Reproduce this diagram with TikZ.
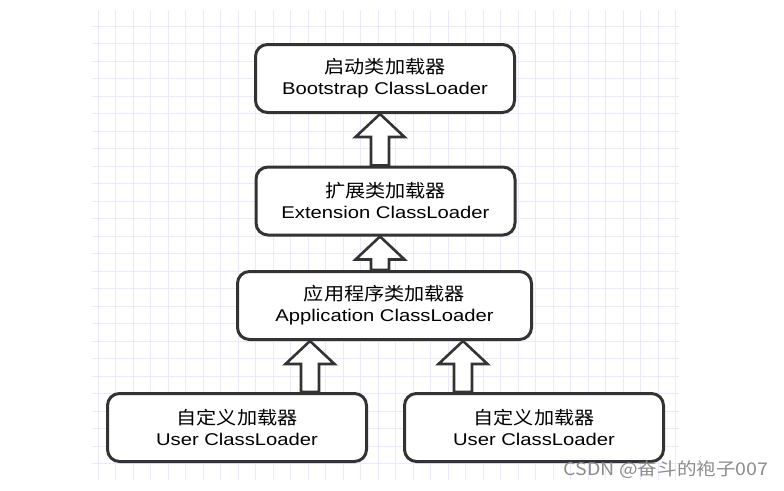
\documentclass[tikz,border=0pt]{standalone}
\usepackage{fontspec}
\setmainfont[FakeStretch=1.19]{Liberation Sans}
\newfontfamily\cjk[FakeStretch=1.12]{Noto Sans CJK SC}
\usetikzlibrary{calc,positioning}
\definecolor{gridcol}{RGB}{236,232,255}
\definecolor{inkcol}{RGB}{51,51,51}

% hollow up-arrow from lower box to upper box, #3 = x shift of the tip
\newcommand{\liftarrow}[3]{%
  \coordinate (tip) at ($(#2.south)+(#3,0)$);
  \coordinate (foot) at (#1.north -| tip);
  \draw[hollow] ($(foot)+(-9,0)$) |- ($(tip)+(-24.5,23)$) -- (tip)
    -- ($(tip)+(24.5,23)$) -| ($(foot)+(9,0)$) -- cycle;
}

\begin{document}
\begin{tikzpicture}[x=1pt,y=-1pt,
  loader/.style={draw=inkcol,line width=3pt,rounded corners=12pt,fill=white,
    minimum width=259pt,minimum height=68pt,align=center,inner sep=0pt,
    font=\fontsize{17}{21}\selectfont},
  hollow/.style={draw=inkcol,line width=2.6pt,fill=white,line join=miter},
  gridline/.style={draw=gridcol,line width=0.8pt}]
\useasboundingbox (0,0) rectangle (784,490);

% grid paper
\begin{scope}
\clip (92,10) rectangle (679,480);
\foreach \gx in {0,...,33} {
\draw[gridline] ({98+17.5*\gx},10) -- ({98+17.5*\gx},480);
}
\foreach \gy in {0,...,26} {
\draw[gridline] (92,{26+17.5*\gy}) -- (679,{26+17.5*\gy});
}
\end{scope}

\node[loader] (boot) at (385,78.5) {{\cjk\fontsize{18}{21}\selectfont 启动类加载器}\\Bootstrap ClassLoader};
\node[loader] (ext) at (385.5,201) {{\cjk\fontsize{18}{21}\selectfont 扩展类加载器}\\Extension ClassLoader};
\node[loader,minimum width=294pt] (app) at (384.5,305.5) {{\cjk\fontsize{18}{21}\selectfont 应用程序类加载器}\\Application ClassLoader};
\node[loader] (user1) at (237,427.5) {{\cjk\fontsize{18}{21}\selectfont 自定义加载器}\\User ClassLoader};
\node[loader] (user2) at (534,427.5) {{\cjk\fontsize{18}{21}\selectfont 自定义加载器}\\User ClassLoader};

\liftarrow{ext}{boot}{-5}
\liftarrow{app}{ext}{-5.5}
\liftarrow{user1}{app}{-74.5}
\liftarrow{user2}{app}{78.5}

\node[text=black!45,font=\cjk\fontsize{17.5}{20}\selectfont] (mark) at (666,470) {CSDN @奋斗的袍子007};
\end{tikzpicture}
\end{document}
